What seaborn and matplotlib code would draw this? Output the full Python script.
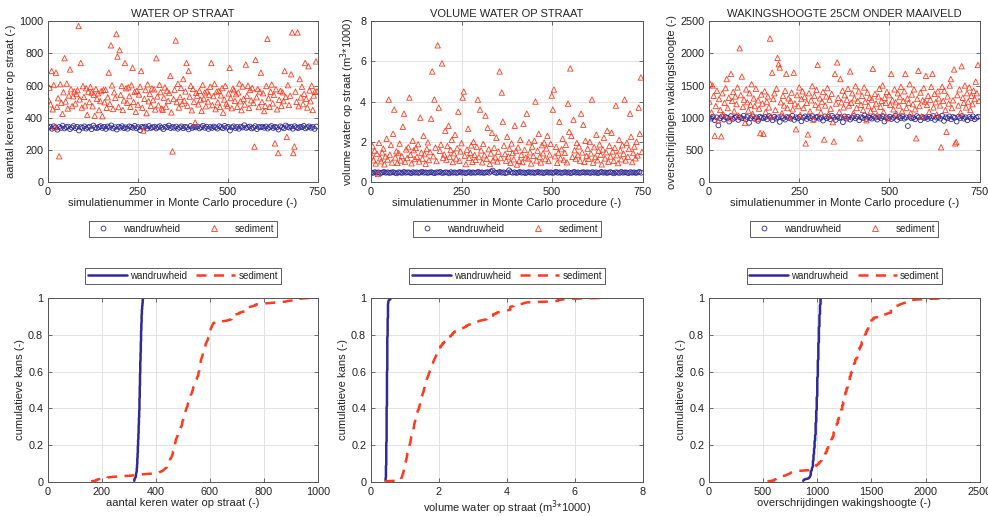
import numpy as np
import pandas as pd
import matplotlib
matplotlib.use("Agg")
import matplotlib.pyplot as plt
import seaborn as sns
from matplotlib.lines import Line2D

# simulation numbers (wandruwheid every 5th, sediment every 3rd run shown)
sim_wand = np.arange(1, 751, 5)
sim_sed = np.arange(1, 751, 3)

# WATER OP STRAAT - aantal keren
keren_wand = [
    338, 344, 331, 347, 340, 325, 342, 336, 350, 333, 341, 345, 329, 339, 348, 335, 343, 320, 341, 337, 346, 332, 340, 344, 328, 351, 339, 334, 342, 347,
    336, 343, 330, 345, 339, 352, 333, 341, 326, 344, 338, 347, 335, 340, 331, 346, 342, 337, 349, 334, 341, 322, 343, 339, 345, 332, 348, 336, 340, 344,
    333, 341, 347, 338, 329, 344, 340, 351, 335, 342, 337, 345, 331, 339, 346, 334, 343, 340, 327, 348, 336, 342, 339, 345, 333, 341, 350, 337, 344, 330,
    342, 336, 345, 339, 332, 347, 341, 334, 349, 338, 343, 320, 340, 346, 335, 342, 331, 344, 339, 353, 336, 341, 345, 333, 338, 347, 329, 342, 340, 344,
    337, 345, 332, 341, 348, 336, 343, 339, 326, 346, 340, 334, 351, 342, 338, 344, 331, 347, 339, 335, 343, 341, 349, 333, 340, 346, 337, 342, 330, 345,
]
keren_sed = [
    512, 587, 483, 690, 452, 603, 340, 680, 468, 521, 160, 608, 493, 424, 558, 770, 501, 612, 457, 538, 700, 577, 472, 533, 563,
    488, 547, 571, 970, 514, 740, 463, 596, 529, 476, 583, 418, 562, 497, 591, 556, 471, 543, 412, 578, 518, 552, 447, 503, 565,
    409, 573, 496, 574, 461, 527, 680, 486, 850, 601, 454, 558, 523, 920, 780, 466, 820, 541, 597, 448, 507, 740, 583, 492, 589,
    534, 468, 602, 710, 498, 561, 437, 566, 481, 544, 593, 690, 462, 320, 517, 572, 428, 607, 502, 548, 473, 582, 509, 576, 451,
    770, 532, 477, 604, 559, 458, 449, 524, 588, 469, 568, 504, 553, 660, 433, 190, 516, 574, 880, 497, 611, 463, 528, 585, 488,
    640, 506, 563, 740, 474, 690, 531, 598, 446, 579, 499, 370, 554, 537, 483, 567, 512, 442, 603, 519, 557, 471, 564, 501, 543,
    592, 740, 478, 534, 609, 453, 562, 496, 567, 467, 539, 584, 431, 513, 598, 487, 472, 551, 710, 522, 459, 581, 571, 504, 546,
    468, 557, 613, 502, 447, 594, 518, 482, 730, 536, 599, 461, 573, 508, 584, 491, 220, 760, 527, 578, 466, 563, 680, 498, 552,
    441, 474, 597, 890, 521, 467, 561, 606, 489, 542, 240, 577, 452, 180, 511, 566, 473, 558, 503, 690, 529, 280, 602, 479, 537,
    670, 930, 180, 220, 562, 498, 930, 471, 640, 526, 593, 484, 549, 740, 517, 463, 720, 569, 502, 599, 448, 538, 561, 750, 564,
]

# VOLUME WATER OP STRAAT (m3*1000)
volume_wand = [
    0.47, 0.45, 0.49, 0.46, 0.48, 0.44, 0.47, 0.50, 0.46, 0.48, 0.45, 0.47, 0.49, 0.46, 0.43, 0.48, 0.47, 0.45, 0.50, 0.46, 0.48, 0.47, 0.44, 0.49, 0.46, 0.48, 0.45, 0.47, 0.51, 0.46,
    0.48, 0.45, 0.47, 0.49, 0.46, 0.44, 0.48, 0.47, 0.50, 0.45, 0.46, 0.48, 0.47, 0.43, 0.49, 0.46, 0.48, 0.45, 0.47, 0.50, 0.46, 0.48, 0.44, 0.47, 0.49, 0.45, 0.48, 0.46, 0.47, 0.50,
    0.46, 0.48, 0.45, 0.47, 0.49, 0.46, 0.52, 0.57, 0.48, 0.45, 0.47, 0.50, 0.46, 0.48, 0.44, 0.47, 0.58, 0.49, 0.46, 0.48, 0.45, 0.47, 0.50, 0.46, 0.48, 0.44, 0.47, 0.49, 0.46, 0.48,
    0.45, 0.47, 0.50, 0.46, 0.48, 0.44, 0.47, 0.49, 0.46, 0.48, 0.45, 0.47, 0.51, 0.46, 0.48, 0.45, 0.47, 0.49, 0.46, 0.48, 0.44, 0.47, 0.50, 0.46, 0.48, 0.45, 0.47, 0.49, 0.46, 0.48,
    0.47, 0.45, 0.49, 0.46, 0.48, 0.44, 0.47, 0.50, 0.46, 0.48, 0.45, 0.47, 0.49, 0.46, 0.43, 0.48, 0.47, 0.45, 0.50, 0.46, 0.48, 0.47, 0.44, 0.49, 0.46, 0.48, 0.45, 0.47, 0.50, 0.46,
]
volume_sed = [
    1.32, 1.78, 1.08, 1.56, 0.92, 1.41, 0.40, 1.95, 1.18, 1.03, 1.47, 1.66, 0.88, 1.27, 2.15, 1.12, 4.10, 1.36, 1.84, 0.97, 2.40, 3.60, 1.22, 1.53, 0.95,
    1.44, 1.91, 1.07, 1.29, 2.75, 3.40, 1.01, 1.62, 1.19, 1.73, 4.20, 1.35, 0.93, 2.05, 1.58, 1.14, 1.69, 1.25, 1.88, 1.02, 3.20, 1.46, 1.16, 2.30, 1.38,
    0.91, 1.64, 1.97, 1.09, 1.49, 3.15, 5.50, 1.28, 4.10, 1.71, 1.04, 6.80, 3.70, 1.55, 1.86, 5.90, 1.21, 1.37, 2.55, 1.11, 1.79, 2.80, 1.26, 1.59, 2.10,
    0.99, 1.43, 2.35, 1.17, 1.68, 3.50, 1.06, 1.52, 1.93, 4.20, 4.50, 1.31, 0.89, 1.61, 2.65, 1.20, 1.45, 1.82, 1.00, 2.00, 1.34, 1.10, 1.74, 4.10, 1.24,
    3.60, 1.57, 0.98, 1.89, 1.33, 3.30, 1.15, 2.70, 1.63, 0.90, 1.42, 2.45, 1.08, 1.70, 1.23, 2.20, 1.02, 1.51, 5.50, 1.19, 4.45, 3.00, 1.81, 1.39, 1.06,
    2.25, 1.27, 1.65, 0.96, 1.92, 1.44, 1.13, 2.80, 1.54, 0.87, 1.72, 1.05, 2.10, 1.35, 0.99, 2.90, 1.60, 1.22, 3.40, 1.17, 1.98, 1.48, 0.92, 1.76, 1.30,
    2.05, 4.00, 1.07, 1.56, 2.40, 1.26, 0.97, 1.83, 1.43, 1.96, 1.14, 1.67, 2.30, 1.04, 1.37, 1.90, 4.30, 3.60, 4.60, 1.28, 1.75, 0.95, 1.46, 3.00, 1.18,
    1.63, 2.15, 1.09, 1.45, 1.85, 0.98, 3.90, 2.50, 5.65, 2.30, 1.25, 3.10, 1.58, 1.16, 1.94, 1.34, 1.77, 1.06, 3.40, 1.47, 2.85, 1.00, 2.05, 1.29, 1.66,
    1.15, 1.99, 1.42, 4.10, 0.96, 1.73, 1.24, 2.35, 1.08, 1.55, 1.87, 1.36, 0.88, 1.62, 2.20, 1.17, 1.48, 2.55, 1.01, 1.80, 1.27, 2.45, 1.52, 1.05, 1.70,
    3.80, 1.33, 0.94, 2.10, 1.57, 1.13, 1.83, 1.41, 4.10, 1.07, 1.95, 1.26, 1.64, 3.40, 2.25, 0.99, 1.44, 1.76, 1.18, 2.00, 1.32, 3.70, 2.40, 5.20, 1.50,
]

# WAKINGSHOOGTE 25CM ONDER MAAIVELD - overschrijdingen
waking_wand = [
    1000, 985, 1015, 960, 1005, 880, 990, 1020, 970, 1010, 995, 940, 1025, 980, 1000, 1015, 965, 1005, 990, 1030, 975, 1010, 920, 995, 1020, 985, 1005, 950, 1015, 1000,
    990, 1010, 975, 1025, 1000, 960, 1015, 985, 1005, 935, 1020, 995, 970, 1010, 1000, 985, 1030, 965, 1005, 990, 1015, 945, 1000, 1020, 980, 1010, 995, 1025, 970, 1005,
    1015, 985, 1000, 955, 1020, 990, 1010, 975, 1030, 1000, 965, 1015, 995, 1005, 930, 1020, 985, 1010, 970, 1000, 1025, 990, 1015, 960, 1005, 995, 1035, 980, 1010, 1000,
    985, 1020, 1000, 970, 1010, 995, 1025, 940, 1005, 990, 1015, 980, 1000, 1030, 965, 1010, 995, 1020, 985, 1005, 870, 1015, 990, 1000, 975, 1025, 1005, 960, 1010, 995,
    1005, 980, 1015, 995, 1025, 965, 1000, 1010, 985, 1030, 950, 1005, 990, 1020, 975, 1010, 1000, 940, 1015, 995, 1025, 985, 1005, 960, 1010, 990, 1020, 975, 1000, 1015,
]
waking_sed = [
    1250, 1520, 1080, 1500, 1340, 720, 1180, 1420, 960, 1290, 1120, 710, 1380, 1050, 1230, 1460, 1600, 1150, 1310, 990, 1680, 1260, 1400, 1100, 1330,
    1210, 1470, 1030, 2080, 1350, 1640, 1170, 1280, 920, 1440, 1240, 1110, 1380, 1200, 1520, 1060, 1300, 1180, 1450, 980, 1270, 1140, 760, 1360, 1220,
    750, 1410, 1090, 1250, 1330, 1160, 2230, 1020, 1700, 1290, 1380, 1120, 1450, 1930, 1830, 1780, 1240, 1070, 1340, 1190, 1420, 1680, 1150, 1300, 1010,
    1260, 1390, 1130, 1700, 1220, 820, 1350, 1180, 1470, 1040, 1290, 1410, 1150, 1320, 600, 1230, 740, 1380, 1100, 1270, 1490, 970, 1340, 1200, 1430,
    1820, 1160, 1300, 1080, 1250, 1400, 660, 1190, 1330, 1460, 1050, 1280, 1140, 1370, 930, 630, 1680, 1220, 1860, 1310, 1090, 1600, 1240, 1420, 1160,
    1350, 1010, 1280, 1450, 1190, 1720, 1230, 1380, 1070, 1300, 1490, 1150, 1260, 1410, 680, 1200, 1340, 1120, 1470, 1250, 960, 1390, 1180, 1310, 1100,
    1280, 1760, 1140, 1370, 1220, 1040, 1330, 1450, 1170, 1260, 1500, 1090, 1310, 1230, 1400, 990, 1350, 1200, 1680, 1270, 1130, 1440, 1240, 1060, 1380,
    1190, 1320, 1480, 1100, 1260, 1410, 1680, 1150, 1300, 1230, 1520, 1070, 1360, 1210, 1440, 1130, 680, 1290, 1730, 1180, 1390, 1020, 1270, 1460, 1250,
    1650, 1200, 1340, 1090, 1280, 1480, 1680, 1160, 1370, 1240, 1050, 1410, 1300, 1190, 540, 1480, 1260, 1420, 1120, 780, 1330, 1220, 1500, 1600, 1150,
    1270, 1750, 600, 620, 1350, 1190, 1440, 1080, 1800, 1310, 1230, 1500, 1160, 1380, 1250, 1470, 1120, 1340, 1210, 1420, 1290, 1560, 1380, 1820, 1260,
]

titles = ["WATER OP STRAAT", "VOLUME WATER OP STRAAT", "WAKINGSHOOGTE 25CM ONDER MAAIVELD"]
ylabels_top = ["aantal keren water op straat (-)", "volume water op straat (m$^3$*1000)",
               "overschrijdingen wakingshoogte (-)"]
xlabels_bot = ["aantal keren water op straat (-)", "volume water op straat (m$^3$*1000)",
               "overschrijdingen wakingshoogte (-)"]
ylims = [(0, 1000), (0, 8), (0, 2500)]
yticks = [[0, 200, 400, 600, 800, 1000], [0, 2, 4, 6, 8], [0, 500, 1000, 1500, 2000, 2500]]
labels = ["wandruwheid", "sediment"]

BLUE = "#302a98"
RED = "#ff3a1e"

sns.set_style("ticks")
plt.rcParams["font.family"] = ["Liberation Sans", "DejaVu Sans"]
plt.rcParams["font.size"] = 7.8

fig = plt.figure(figsize=(9.88, 5.17), dpi=100)
lefts = [0.0486, 0.3755, 0.7176]
widths = [0.273, 0.275, 0.274]

data = [(keren_wand, keren_sed), (volume_wand, volume_sed), (waking_wand, waking_sed)]


def style_axes(ax):
    ax.grid(True, color="#e3e3e3", linewidth=0.7)
    ax.set_axisbelow(True)
    for s in ax.spines.values():
        s.set_color("#555555")
        s.set_linewidth(0.7)
    ax.tick_params(direction="in", length=3, width=0.6, colors="#555555",
                   labelcolor="#222222", labelsize=7.8, top=True, right=True)


def cdf_frame(values):
    # sorted sample with its cumulative probability (empirical cdf)
    v = np.sort(np.asarray(values, dtype=float))
    return pd.DataFrame({"val": v, "p": np.arange(1, len(v) + 1) / len(v)})


for k in range(3):
    wand, sed = data[k]
    df_w = pd.DataFrame({"sim": sim_wand, "val": wand})
    df_s = pd.DataFrame({"sim": sim_sed, "val": sed})

    # top row: scatter per simulation
    ax = fig.add_axes([lefts[k], 0.648, widths[k], 0.311])
    sns.scatterplot(data=df_w, x="sim", y="val", ax=ax, marker="o", s=12,
                    facecolors="none", edgecolor=BLUE, linewidth=0.6)
    sns.scatterplot(data=df_s, x="sim", y="val", ax=ax, marker="^", s=15,
                    facecolors="none", edgecolor=RED, linewidth=0.6)
    ax.set_xlim(0, 750)
    ax.set_xticks([0, 250, 500, 750])
    ax.set_ylim(*ylims[k])
    ax.set_yticks(yticks[k])
    ax.set_title(titles[k], fontsize=8, pad=3)
    ax.set_xlabel("simulatienummer in Monte Carlo procedure (-)", fontsize=8, labelpad=1)
    ax.set_ylabel(ylabels_top[k], fontsize=8, labelpad=2)
    style_axes(ax)
    handles = [Line2D([], [], ls="none", marker="o", mfc="none", mec=BLUE, ms=3.5, mew=0.6),
               Line2D([], [], ls="none", marker="^", mfc="none", mec=RED, ms=4, mew=0.6)]
    leg = ax.legend(handles, labels, loc="center", bbox_to_anchor=(0.5, -0.29), ncol=2,
                    frameon=True, fancybox=False, edgecolor="#333333", fontsize=7,
                    handlelength=2.2, columnspacing=2.4, borderpad=0.3, handletextpad=1.0)
    leg.get_frame().set_linewidth(0.7)

    # bottom row: cumulative distribution
    ax2 = fig.add_axes([lefts[k], 0.0677, widths[k], 0.356])
    sns.lineplot(data=cdf_frame(wand), x="val", y="p", ax=ax2, color=BLUE,
                 linewidth=1.8, sort=False, estimator=None)
    sns.lineplot(data=cdf_frame(sed), x="val", y="p", ax=ax2, color=RED,
                 linewidth=1.8, linestyle=(0, (4, 3)), sort=False, estimator=None)
    ax2.set_xlim(*ylims[k])
    ax2.set_xticks(yticks[k])
    ax2.set_ylim(0, 1)
    ax2.set_yticks([0, 0.2, 0.4, 0.6, 0.8, 1])
    ax2.set_yticklabels(["0", "0.2", "0.4", "0.6", "0.8", "1"])
    ax2.set_xlabel(xlabels_bot[k], fontsize=8, labelpad=1)
    ax2.set_ylabel("cumulatieve kans (-)", fontsize=8, labelpad=2)
    style_axes(ax2)
    handles2 = [Line2D([], [], color=BLUE, lw=1.8),
                Line2D([], [], color=RED, lw=1.8, ls=(0, (4, 3)))]
    leg2 = ax2.legend(handles2, labels, loc="center", bbox_to_anchor=(0.5, 1.12), ncol=2,
                      frameon=True, fancybox=False, edgecolor="#333333", fontsize=7,
                      handlelength=4.0, columnspacing=1.0, borderpad=0.3, handletextpad=0.3)
    leg2.get_frame().set_linewidth(0.7)

fig.savefig("out.png", dpi=100)
